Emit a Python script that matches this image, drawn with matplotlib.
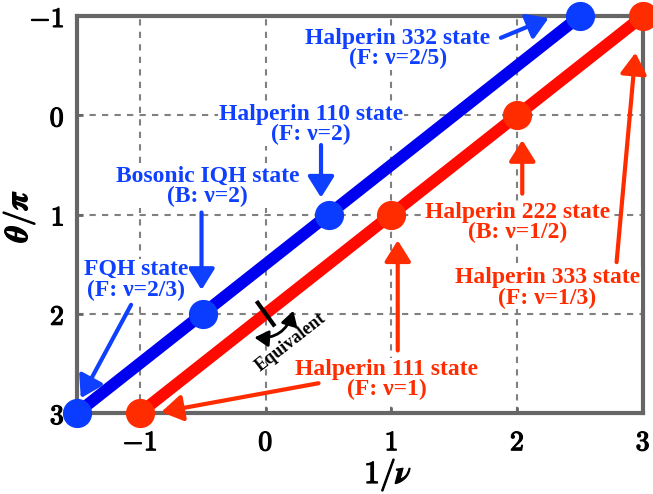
import matplotlib.pyplot as plt
import matplotlib.patheffects as pe
from matplotlib.patches import FancyArrowPatch

plt.rcParams['mathtext.fontset'] = 'cm'

# theta/pi against 1/nu for the two families of states
blue_x = [-1.5, -0.5, 0.5, 2.5]
blue_y = [3, 2, 1, -1]
red_x = [-1, 1, 2, 3]
red_y = [3, 1, 0, -1]

xticks = [-1, 0, 1, 2, 3]
yticks = [-1, 0, 1, 2, 3]

# label, text centre, arrow start, arrow tip
blue_notes = [
    ("Halperin 332 state\n(F: ν=2/5)", (1.05, -0.67), (1.87, -0.78), (2.25, -0.98)),
    ("Halperin 110 state\n(F: ν=2)", (0.36, 0.09), (0.44, 0.30), (0.44, 0.83)),
    ("Bosonic IQH state\n(B: ν=2)", (-0.46, 0.72), (-0.51, 0.98), (-0.51, 1.76)),
    ("FQH state\n(F: ν=2/3)", (-1.03, 1.66), (-1.07, 1.91), (-1.47, 2.85)),
]
red_notes = [
    ("Halperin 222 state\n(B: ν=1/2)", (2.0, 1.08), (2.04, 0.79), (2.04, 0.25)),
    ("Halperin 333 state\n(F: ν=1/3)", (2.24, 1.74), (2.79, 1.48), (2.94, -0.63)),
    ("Halperin 111 state\n(F: ν=1)", (0.96, 2.66), (1.05, 2.37), (1.05, 1.26)),
]
# extra arrow from the 111 label to the left red point
red_extra = ((0.42, 2.70), (-0.83, 2.99))

blue_line = '#0000f0'
blue_dot = '#0a3cff'
blue_text = '#1040ff'
red_line = '#ff0a00'
red_dot = '#ff2c00'
red_text = '#ff2c00'

fig = plt.figure(figsize=(6.53, 4.94), dpi=100)
ax = fig.add_axes([77/653, 1 - 413/494, 566/653, 397/494])

ax.plot(blue_x, blue_y, color=blue_line, lw=8.5, zorder=4, solid_capstyle='butt')
ax.plot(red_x, red_y, color=red_line, lw=8.5, zorder=4, solid_capstyle='butt')
ax.plot(blue_x, blue_y, 'o', color=blue_dot, ms=20, zorder=5, clip_on=False)
ax.plot(red_x, red_y, 'o', color=red_dot, ms=20, zorder=5, clip_on=False)

thick = [pe.withStroke(linewidth=0.9, foreground='black')]

ax.set_xlim(-1.5, 3)
ax.set_ylim(3, -1)
ax.set_xticks(xticks)
ax.set_yticks(yticks)
ax.set_xticklabels([r'$\mathbf{%d}$' % t for t in xticks], fontsize=20)
ax.set_yticklabels([r'$\mathbf{%d}$' % t for t in yticks], fontsize=20)
for lab in ax.get_xticklabels() + ax.get_yticklabels():
    lab.set_path_effects(thick)
ax.tick_params(axis='x', direction='in', length=4, width=2, color='#666666', pad=11)
ax.tick_params(axis='y', direction='in', length=4, width=2, color='#666666', pad=9)
ax.grid(True, color='#808080', lw=1.5, ls=(0, (3, 3)))
for sp in ax.spines.values():
    sp.set_color('#666666')
    sp.set_linewidth(3)

fig.text(388/653, 1 - 475/494, r'$\boldsymbol{1/\nu}$', fontsize=23,
         ha='center', va='center', path_effects=thick)
fig.text(19/653, 1 - 216/494, r'$\boldsymbol{\theta/\pi}$', fontsize=23,
         rotation=90, ha='center', va='center', path_effects=thick)

box = dict(facecolor='white', edgecolor='none', pad=0.5)
head = '-|>,head_length=0.8,head_width=0.5'

def note(items, color):
    for label, pos, start, tip in items:
        ax.text(pos[0], pos[1], label, color=color, ha='center', va='center',
                fontsize=17, fontweight='bold', family='Liberation Serif',
                linespacing=0.95, zorder=6, bbox=box)
        ax.annotate('', xy=tip, xytext=start, zorder=6, annotation_clip=False,
                    arrowprops=dict(arrowstyle=head, lw=3, color=color,
                                    shrinkA=0, shrinkB=0, mutation_scale=16))

note(blue_notes, blue_text)
note(red_notes, red_text)
ax.annotate('', xy=red_extra[1], xytext=red_extra[0], zorder=6,
            arrowprops=dict(arrowstyle=head, lw=3, color=red_text,
                            shrinkA=0, shrinkB=0, mutation_scale=16))

# "Equivalent" marker
ax.plot([-0.063, 0.063], [1.89, 2.11], color='black', lw=3, zorder=6)
ax.add_patch(FancyArrowPatch((-0.09, 2.24), (0.22, 1.97),
                             connectionstyle='arc3,rad=0.4',
                             arrowstyle='<|-|>,head_length=0.6,head_width=0.35',
                             mutation_scale=14, lw=2, color='black', zorder=6,
                             shrinkA=0, shrinkB=0))
ax.text(0.2, 2.29, 'Equivalent', rotation=38, ha='center', va='center',
        fontsize=13, fontweight='bold', family='Liberation Serif', zorder=6)

fig.savefig('out.png', dpi=100)
